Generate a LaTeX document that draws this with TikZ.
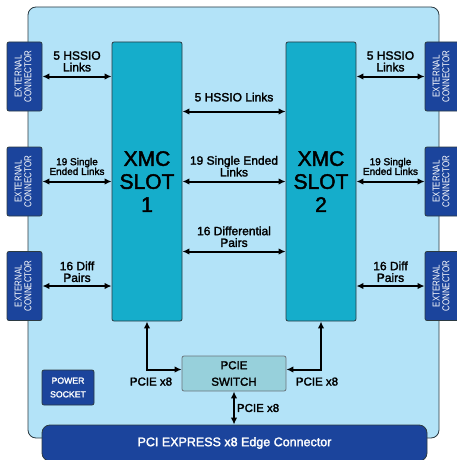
\documentclass[tikz,border=0pt]{standalone}
\usepackage{fontspec}
\setmainfont{Liberation Sans}
\newfontfamily\medfont{Liberation Sans}[FakeBold=2]
\newfontfamily\narrowfont{Liberation Sans}[FakeStretch=0.8]
\usetikzlibrary{positioning, calc, arrows.meta}

\definecolor{boardblue}{HTML}{B3E3F8}
\definecolor{slotteal}{HTML}{15ADCB}
\definecolor{connblue}{HTML}{1B449C}
\definecolor{switchteal}{HTML}{97D0DB}
\definecolor{outline}{HTML}{2B3A42}

\begin{document}
\begin{tikzpicture}[
    x=1pt, y=-1pt,
    % Styles
    box/.style={ % Plain rectangle, size given in pt
        draw=outline,
        line width=0.8pt,
        rounded corners=2pt,
        inner sep=0pt
    },
    xmc/.style={ % XMC slot
        box,
        fill=slotteal,
        minimum width=70pt,
        minimum height=279pt,
        align=center,
        font=\medfont\fontsize{21}{23}\selectfont
    },
    extconn/.style={ % External connector (text turned upright)
        box,
        fill=connblue,
        minimum width=35pt,
        minimum height=69pt,
        text=white
    },
    switchbox/.style={
        box,
        fill=switchteal,
        draw=outline!70,
        minimum width=104pt,
        minimum height=35pt,
        align=center,
        text=black,
        font=\medfont\fontsize{11.5}{16.5}\selectfont
    },
    powerbox/.style={
        box,
        fill=connblue,
        minimum width=52pt,
        minimum height=35pt,
        align=center,
        text=white,
        font=\medfont\fontsize{8.7}{13.7}\selectfont
    },
    edgeconn/.style={ % Card edge connector
        box,
        rounded corners=8pt,
        fill=connblue,
        minimum width=385pt,
        minimum height=36pt,
        text=white,
        font=\medfont\fontsize{12.5}{14}\selectfont
    },
    link/.style={ % Signal arrows
        {Latex[length=7pt,width=6.5pt]}-{Latex[length=7pt,width=6.5pt]},
        line width=2pt,
        black
    },
    lbl/.style={
        align=center,
        inner sep=0pt,
        font=\medfont\fontsize{12}{11.7}\selectfont
    },
    lblsmall/.style={
        lbl,
        font=\medfont\fontsize{10}{9.7}\selectfont
    },
    pcielbl/.style={
        lbl,
        font=\medfont\fontsize{11.5}{13}\selectfont
    }
]
    \useasboundingbox (0,0) rectangle (456,460);
    \newcommand{\extlabel}{\rotatebox{90}{\narrowfont\fontsize{10}{9.5}\selectfont
        \begin{tabular}{@{}c@{}}EXTERNAL\\CONNECTOR\end{tabular}}}

    % Carrier board
    \draw[fill=boardblue, draw=outline, line width=0.8pt, rounded corners=8pt]
        (28,7) rectangle (439,438);

    % Slots, switch and connectors
    \node[xmc] (slotA) at (147,181.5) {XMC\\SLOT\\1};
    \node[xmc] (slotB) at (321,181.5) {XMC\\SLOT\\2};
    \node[switchbox] (pcieswitch) at (234,373.5) {PCIE\\SWITCH};
    \node[powerbox] (power) at (68,387.5) {POWER\\SOCKET};
    \node[edgeconn] (edge) at (234.5,443) {PCI EXPRESS x8 Edge Connector};

    \node[extconn] (extL1) at (24.5,76.5) {\extlabel};
    \node[extconn] (extL2) at (24.5,181.5) {\extlabel};
    \node[extconn] (extL3) at (24.5,286) {\extlabel};
    \node[extconn] (extR1) at (442.5,76.5) {\extlabel};
    \node[extconn] (extR2) at (442.5,181.5) {\extlabel};
    \node[extconn] (extR3) at (442.5,286) {\extlabel};

    % Left side links
    \draw[link] (extL1.east) -- (extL1.east -| slotA.west) node[midway, above=4pt, lbl] {5 HSSIO\\Links};
    \draw[link] (extL2.east) -- (extL2.east -| slotA.west) node[midway, above=5.5pt, lblsmall] {19 Single\\Ended Links};
    \draw[link] (extL3.east) -- (extL3.east -| slotA.west) node[midway, above=3pt, lbl] {16 Diff\\Pairs};

    % Right side links
    \draw[link] (extR1.west) -- (extR1.west -| slotB.east) node[midway, above=4pt, lbl] {5 HSSIO\\Links};
    \draw[link] (extR2.west) -- (extR2.west -| slotB.east) node[midway, above=5.5pt, lblsmall] {19 Single\\Ended Links};
    \draw[link] (extR3.west) -- (extR3.west -| slotB.east) node[midway, above=3pt, lbl] {16 Diff\\Pairs};

    % Slot to slot links
    \draw[link] ([yshift=70pt]slotA.east) -- ([yshift=70pt]slotB.west) node[midway, above=9pt, lbl] {5 HSSIO Links};
    \draw[link] (slotA.east) -- (slotB.west) node[midway, above=4pt, lbl] {19 Single Ended\\Links};
    \draw[link] ([yshift=-70pt]slotA.east) -- ([yshift=-70pt]slotB.west) node[midway, above=3.5pt, lbl] {16 Differential\\Pairs};

    % PCIe lanes
    \draw[link] (slotA.south) |- ([yshift=4pt]pcieswitch.west) node[pos=0.5, below=7pt, xshift=4pt, pcielbl] {PCIE x8};
    \draw[link] (slotB.south) |- ([yshift=4pt]pcieswitch.east) node[pos=0.5, below=7pt, xshift=-4pt, pcielbl] {PCIE x8};
    \draw[link] (pcieswitch.south) -- (pcieswitch.south |- edge.north) node[midway, right=2pt, pcielbl] {PCIE x8};
\end{tikzpicture}
\end{document}
